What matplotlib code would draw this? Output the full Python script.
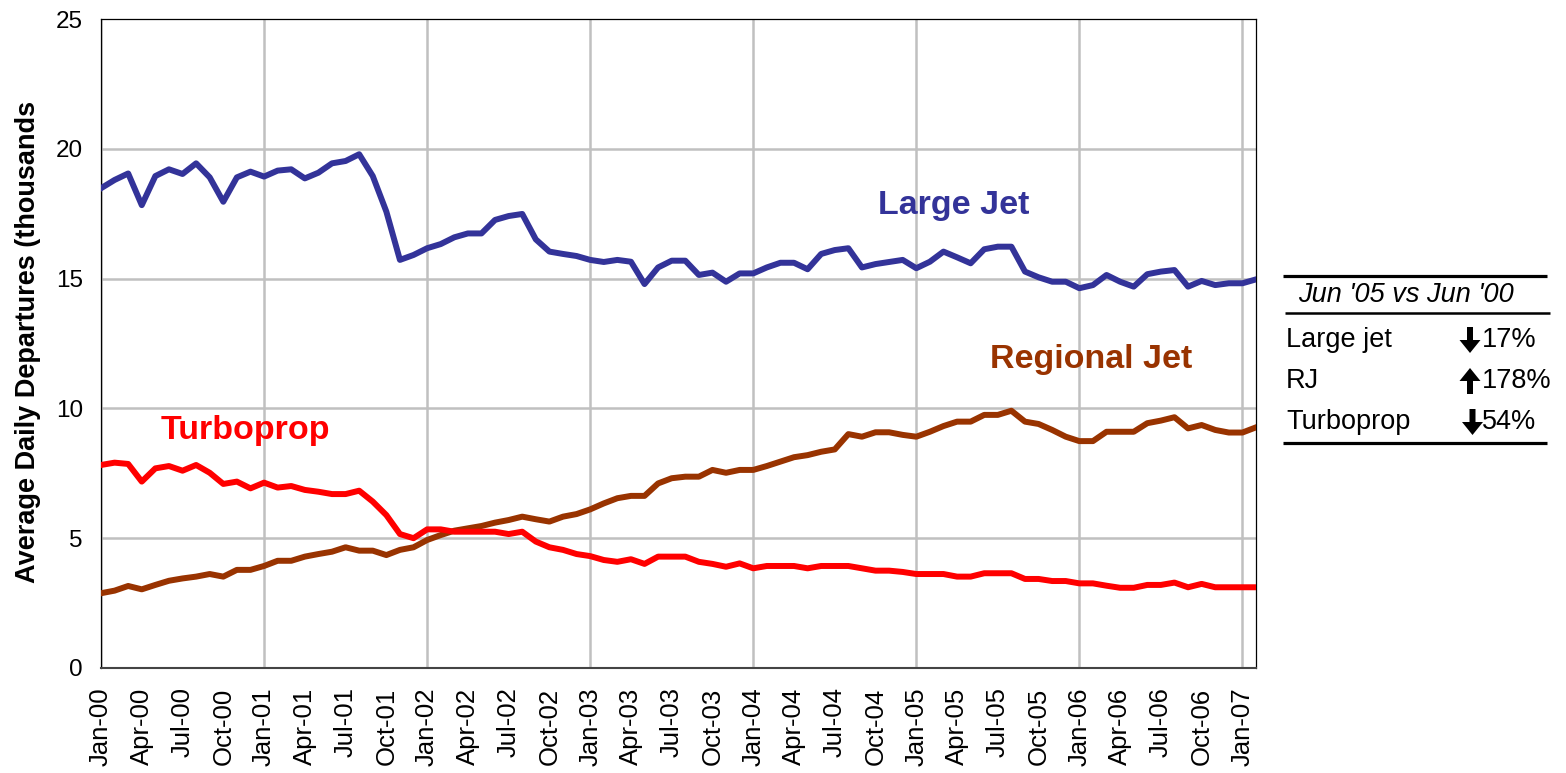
import matplotlib
matplotlib.use("Agg")
import matplotlib.pyplot as plt
import pandas as pd
from matplotlib.patches import FancyArrow

plt.rcParams['font.family'] = ['Liberation Sans', 'DejaVu Sans']

# monthly values, Jan-00 .. Feb-07 (thousands of departures per day)
large_jet = [18.48, 18.80, 19.05, 17.83, 18.95, 19.21, 19.03, 19.44, 18.90, 17.96,
             18.90, 19.12, 18.93, 19.16, 19.21, 18.86, 19.08, 19.44, 19.53, 19.79,
             18.95, 17.58, 15.72, 15.91, 16.17, 16.33, 16.59, 16.74, 16.74, 17.26,
             17.41, 17.49, 16.51, 16.04, 15.95, 15.87, 15.72, 15.64, 15.72, 15.65,
             14.79, 15.43, 15.69, 15.69, 15.14, 15.23, 14.88, 15.20, 15.20, 15.43,
             15.61, 15.61, 15.36, 15.95, 16.10, 16.17, 15.43, 15.56, 15.64, 15.72,
             15.40, 15.65, 16.04, 15.82, 15.59, 16.13, 16.23, 16.23, 15.27, 15.05,
             14.88, 14.88, 14.63, 14.75, 15.14, 14.88, 14.69, 15.17, 15.27, 15.33,
             14.69, 14.91, 14.75, 14.82, 14.82, 14.97]
regional_jet = [2.88, 2.98, 3.16, 3.03, 3.20, 3.36, 3.45, 3.52, 3.62, 3.52,
                3.78, 3.78, 3.93, 4.13, 4.13, 4.29, 4.39, 4.48, 4.65, 4.52,
                4.52, 4.35, 4.55, 4.65, 4.93, 5.12, 5.29, 5.38, 5.47, 5.60,
                5.70, 5.83, 5.73, 5.64, 5.83, 5.93, 6.11, 6.34, 6.54, 6.63,
                6.63, 7.11, 7.31, 7.37, 7.37, 7.63, 7.52, 7.63, 7.63, 7.78,
                7.95, 8.12, 8.20, 8.33, 8.42, 9.01, 8.91, 9.08, 9.08, 8.98,
                8.91, 9.10, 9.32, 9.49, 9.49, 9.75, 9.75, 9.91, 9.49, 9.40,
                9.17, 8.91, 8.74, 8.74, 9.10, 9.10, 9.10, 9.43, 9.53, 9.66,
                9.23, 9.36, 9.17, 9.07, 9.07, 9.27]
turboprop = [7.82, 7.91, 7.86, 7.18, 7.69, 7.78, 7.60, 7.82, 7.52, 7.09,
             7.18, 6.92, 7.14, 6.95, 7.01, 6.86, 6.79, 6.70, 6.70, 6.83,
             6.41, 5.89, 5.16, 5.00, 5.34, 5.34, 5.25, 5.25, 5.25, 5.25,
             5.16, 5.25, 4.87, 4.65, 4.55, 4.39, 4.31, 4.16, 4.09, 4.19,
             4.01, 4.29, 4.29, 4.29, 4.09, 4.01, 3.90, 4.03, 3.84, 3.93,
             3.93, 3.93, 3.84, 3.93, 3.93, 3.93, 3.84, 3.75, 3.75, 3.70,
             3.62, 3.62, 3.62, 3.52, 3.52, 3.65, 3.65, 3.65, 3.43, 3.43,
             3.35, 3.35, 3.26, 3.26, 3.17, 3.09, 3.09, 3.20, 3.20, 3.29,
             3.11, 3.24, 3.11, 3.11, 3.11, 3.11]

months = pd.date_range('2000-01-01', periods=len(large_jet), freq='MS')
tick_idx = list(range(0, len(months), 3))
tick_labels = [months[i].strftime('%b-%y') for i in tick_idx]
year_idx = list(range(0, len(months), 12))

table_rows = ['Large jet', 'RJ', 'Turboprop']
table_changes = ['17%', '178%', '54%']
table_up = [False, True, False]

blue = '#333399'
brown = '#993300'
red = '#FF0000'

fig = plt.figure(figsize=(15.66, 7.73), dpi=100)
ax = fig.add_axes([101 / 1566, 1 - 668 / 773, (1256 - 101) / 1566, (668 - 19) / 773])

x = range(len(months))
for i in year_idx:
    ax.axvline(i, color='#C0C0C0', lw=1.8, zorder=0)
for v in [5, 10, 15, 20]:
    ax.axhline(v, color='#C0C0C0', lw=1.8, zorder=0)

ax.plot(x, large_jet, color=blue, lw=4.3, zorder=3)
ax.plot(x, regional_jet, color=brown, lw=4.3, zorder=3)
ax.plot(x, turboprop, color=red, lw=4.3, zorder=3)

ax.set_xlim(0, len(months) - 1)
ax.set_ylim(0, 25)
ax.set_yticks([0, 5, 10, 15, 20, 25])
ax.set_xticks(tick_idx)
ax.set_xticklabels(tick_labels, rotation=90, fontsize=18.5)
ax.tick_params(axis='x', length=0, pad=14)
ax.tick_params(axis='y', length=0, pad=13, labelsize=17.5)
for s in ax.spines.values():
    s.set_color('black')
    s.set_linewidth(0.9)
ax.spines['bottom'].set_color('#444444')
ax.spines['bottom'].set_linewidth(1.5)

ax.text(57.2, 17.8, 'Large Jet', color=blue, fontsize=24.5, fontweight='bold', va='center')
ax.text(65.4, 11.9, 'Regional Jet', color=brown, fontsize=24.5, fontweight='bold', va='center')
ax.text(4.4, 9.13, 'Turboprop', color=red, fontsize=24.5, fontweight='bold', va='center')

fig.text(28 / 1566, 1 - 583 / 773, 'Average Daily Departures (thousands', rotation=90,
         ha='center', va='bottom', fontsize=19.5, fontweight='bold')

# summary table at right, in pixel coordinates
tx = fig.add_axes([1270 / 1566, 1 - 460 / 773, 290 / 1566, 200 / 773])
tx.set_xlim(1270, 1560)
tx.set_ylim(460, 260)
tx.axis('off')
tx.plot([1283, 1547], [276.5, 276.5], color='black', lw=2.3, solid_capstyle='butt')
tx.plot([1285, 1550], [313.5, 313.5], color='black', lw=1.8, solid_capstyle='butt')
tx.plot([1283, 1547], [442.5, 442.5], color='black', lw=2.3, solid_capstyle='butt')
tx.text(1298, 295, "Jun '05 vs Jun '00", fontsize=19.5, style='italic', va='center')
row_y = [340, 381, 422]
for name, chg, up, yy in zip(table_rows, table_changes, table_up, row_y):
    tx.text(1286, yy, name, fontsize=19.5, va='center')
    tx.text(1482, yy, chg, fontsize=19.5, va='center')
    ax_x = 1470 if name != 'Turboprop' else 1472.5
    if up:
        tx.add_patch(FancyArrow(ax_x, yy + 13, 0, -26, width=6, head_width=21,
                                head_length=13, length_includes_head=True,
                                color='black', lw=0))
    else:
        tx.add_patch(FancyArrow(ax_x, yy - 13, 0, 26, width=6, head_width=21,
                                head_length=13, length_includes_head=True,
                                color='black', lw=0))

fig.savefig('out.png', dpi=100)
